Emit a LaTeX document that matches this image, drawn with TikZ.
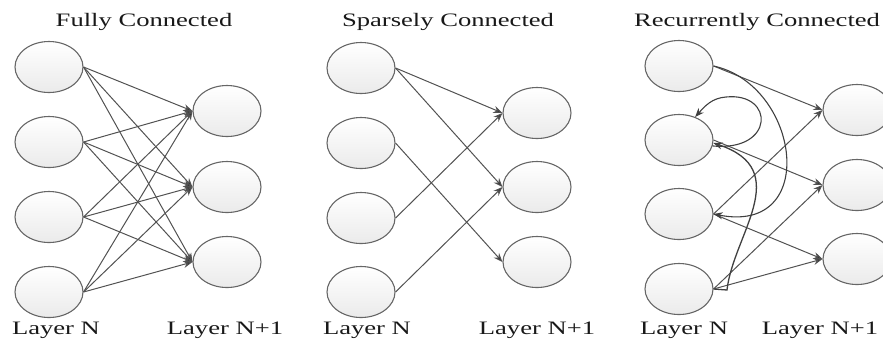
\documentclass[tikz,border=0pt]{standalone}
\usepackage{fontspec}
\setmainfont{Liberation Serif}
\usetikzlibrary{shapes.geometric,arrows.meta}
\tikzset{
  neuron/.style={ellipse, draw=black!60, line width=1.1pt, minimum width=68pt, minimum height=51pt,
    inner sep=0pt, top color=white, bottom color=black!8},
  wire/.style={draw=black!68, line width=1pt, -{Stealth[length=9pt,width=7pt,fill=black!80]}},
  loopwire/.style={wire, draw=black!75, line width=1.1pt},
  caption/.style={anchor=base, inner sep=0pt, font=\fontsize{19}{22}\selectfont, text=black!90}
}
\newcommand{\wide}[1]{\scalebox{1.4}[1]{#1}}
\begin{document}
\begin{tikzpicture}[x=1pt,y=-1pt]
\useasboundingbox (0,0) rectangle (883,341);

% ---- fully connected ----
\node[caption] (t1) at (144,26) {\wide{Fully Connected}};
\foreach \i/\y in {1/67,2/142,3/217,4/292} \node[neuron] (a\i) at (49,\y) {};
\foreach \j/\y in {1/111,2/187,3/262} \node[neuron] (b\j) at (227,\y) {};
\foreach \i in {1,...,4} \foreach \j in {1,2,3} \draw[wire] (a\i.east) -- (b\j.west);
\node[caption] (n1) at (56,334) {\wide{Layer N}};
\node[caption] (m1) at (225,334) {\wide{Layer N+1}};

% ---- sparsely connected ----
\node[caption] (t2) at (448,26) {\wide{Sparsely Connected}};
\foreach \i/\y in {1/68,2/143,3/218,4/292} \node[neuron] (c\i) at (361,\y) {};
\foreach \j/\y in {1/113,2/187,3/262} \node[neuron] (d\j) at (537,\y) {};
\draw[wire] (c1.east) -- (d1.west);
\draw[wire] (c1.east) -- (d2.west);
\draw[wire] (c2.east) -- (d3.west);
\draw[wire] (c3.east) -- (d1.west);
\draw[wire] (c4.east) -- (d2.west);
\node[caption] (n2) at (367,334) {\wide{Layer N}};
\node[caption] (m2) at (537,334) {\wide{Layer N+1}};

% ---- recurrently connected ----
\node[caption] (t3) at (757,26) {\wide{Recurrently Connected}};
\foreach \i/\y in {1/66,2/140,3/214,4/289} \node[neuron] (e\i) at (679,\y) {};
\foreach \j/\y in {1/110,2/185,3/259} \node[neuron] (f\j) at (857,\y) {};
\draw[wire] (e1.east) -- (f1.west);
\draw[wire] (e2.east) -- (f2.west);
\draw[wire] (e3.east) -- (f1.west);
\draw[wire] (e3.east) -- (f3.west);
\draw[wire] (e4.east) -- (f2.west);
\draw[wire] (e4.east) -- (f3.west);
% feedback from the first unit down to the third
\draw[loopwire] (e1.east) .. controls (800,85) and (820,235) .. (e3.east);
% self loop on the second unit
\draw[loopwire] (e2.-10) .. controls (775,152) and (775,92) .. (726,97)
  .. controls (712,98) and (705,106) .. (e2.55);
% feedback from the fourth unit up to the second
\coordinate (k4) at (727,290);
\draw[loopwire, line width=1.3pt] (e4.east) -- (k4) .. controls (733,235) and (795,170) .. (e2.-5);
\node[caption] (n3) at (684,334) {\wide{Layer N}};
\node[caption] (m3) at (820,334) {\wide{Layer N+1}};
\end{tikzpicture}
\end{document}
